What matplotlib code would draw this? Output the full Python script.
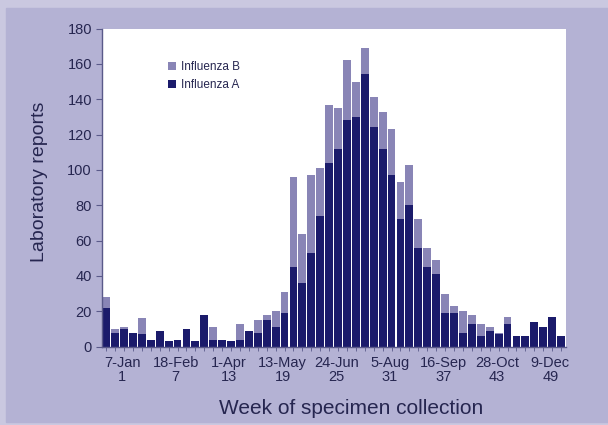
import matplotlib.pyplot as plt
import numpy as np

plt.rcParams['font.family'] = ['Liberation Sans', 'DejaVu Sans']

# weekly laboratory reports
weeks = list(range(1, 53))
flu_a = [22, 8, 10, 8, 7, 4, 9, 3, 4, 10, 3, 18, 4, 4, 3, 4, 9, 8, 15, 11,
         19, 45, 36, 53, 74, 104, 112, 128, 130, 154, 124, 112, 97, 72, 80, 56,
         45, 41, 19, 19, 8, 13, 6, 9, 7, 13, 6, 6, 14, 11, 17, 6]
total = [28, 10, 11, 8, 16, 4, 9, 3, 4, 10, 3, 18, 11, 4, 3, 13, 9, 15, 18, 20,
         31, 96, 64, 97, 101, 137, 135, 162, 150, 169, 141, 133, 123, 93, 103, 72,
         56, 49, 30, 23, 20, 18, 13, 11, 8, 17, 6, 6, 14, 11, 17, 6]
flu_b = [t - a for t, a in zip(total, flu_a)]

label_weeks = [1, 7, 13, 19, 25, 31, 37, 43, 49]
label_dates = ['7-Jan', '18-Feb', '1-Apr', '13-May', '24-Jun', '5-Aug', '16-Sep', '28-Oct', '9-Dec']

navy = '#1b1b6b'
lilac = '#8985b6'
text_col = '#262650'

fig = plt.figure(figsize=(6.08, 4.25), dpi=100, facecolor='#cac8e0')
# lavender panel behind the chart
fig.patches.append(plt.Rectangle((6 / 608, 3 / 425), 1, (414) / 425,
                                 transform=fig.transFigure, color='#b4b2d4', zorder=-10))

ax = fig.add_axes([101.7 / 608, 1 - 346.7 / 425, 463.8 / 608, 318.2 / 425])
ax.set_facecolor('white')

x = np.arange(len(weeks))
ax.bar(x, flu_a, width=0.88, color=navy, label='Influenza A')
ax.bar(x, flu_b, width=0.88, bottom=flu_a, color=lilac, label='Influenza B')

ax.set_xlim(-0.5, len(weeks) - 0.5)
ax.set_ylim(0, 180)
ax.set_yticks(range(0, 181, 20))
ax.set_xticks(x)
ax.set_xticklabels([])

for s in ['top', 'right']:
    ax.spines[s].set_visible(False)
for s in ['left', 'bottom']:
    ax.spines[s].set_color('#5a5a8a')
    ax.spines[s].set_linewidth(1.0)

ax.tick_params(axis='y', length=4, width=0.8, color='#5a5a8a', labelsize=10.5,
               labelcolor=text_col, pad=3)
ax.tick_params(axis='x', length=3, width=0.6, color='#5a5a8a')

for w, d in zip(label_weeks, label_dates):
    ax.text(w - 1 + 1.8, -5, d + '\n' + str(w), ha='center', va='top',
            multialignment='center', fontsize=10.5, color=text_col,
            linespacing=1.0, transform=ax.transData, clip_on=False)

handles, labels = ax.get_legend_handles_labels()
ax.legend(handles[::-1], labels[::-1], loc='upper left', bbox_to_anchor=(0.12, 0.93),
          frameon=False, fontsize=8.5, handlelength=0.7, handleheight=0.7,
          handletextpad=0.4, labelspacing=0.5, labelcolor=text_col)

fig.text(40 / 608, 1 - 182 / 425, 'Laboratory reports', rotation=90, ha='center',
         va='center', fontsize=14, color=text_col)
fig.text(351 / 608, 1 - 408 / 425, 'Week of specimen collection', ha='center',
         va='center', fontsize=15, color=text_col)

fig.savefig('out.png', dpi=100, facecolor=fig.get_facecolor())
